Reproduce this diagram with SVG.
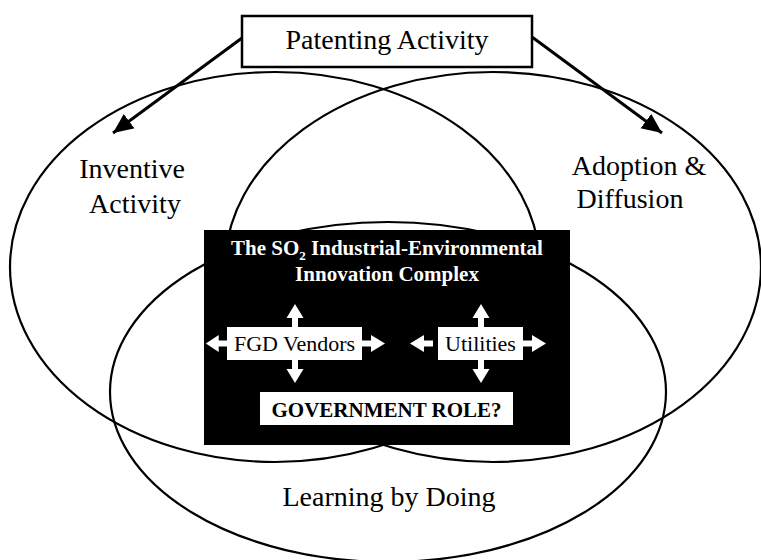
<svg xmlns="http://www.w3.org/2000/svg" xmlns:xlink="http://www.w3.org/1999/xlink" width="761" height="560" viewBox="0 0 761 560">
<style>
.ell{fill:none;stroke:#000;stroke-width:2.2}
.lbl{font-family:'Liberation Serif','Times New Roman',serif;font-size:28px;fill:#000;text-anchor:middle}
.title{font-family:'Liberation Serif','Times New Roman',serif;font-size:21px;font-weight:bold;fill:#fff;text-anchor:middle}
.inner{font-family:'Liberation Serif','Times New Roman',serif;font-size:22px;fill:#000;text-anchor:middle}
.gov{font-family:'Liberation Serif','Times New Roman',serif;font-size:21px;font-weight:bold;fill:#000;text-anchor:middle}
.conn{stroke:#000;stroke-width:3;fill:none}
.wb{fill:#fff}
</style>
<defs>
<marker id="ah" markerUnits="userSpaceOnUse" markerWidth="24" markerHeight="20" refX="20" refY="9" orient="auto">
<path d="M0,0 L20,9 L0,18 Z" fill="#000"/>
</marker>
<path id="ba" d="M0,-3 H9 V-8.5 L23,0 L9,8.5 V3 H0 Z"/>
</defs>
<rect width="761" height="560" fill="#fff"/>
<g id="inventive">
<ellipse class="ell" cx="275" cy="267" rx="265" ry="195"/>
<text class="lbl" x="132" y="178">Inventive</text>
<text class="lbl" x="135" y="213">Activity</text>
</g>
<g id="adoption">
<ellipse class="ell" cx="493" cy="267" rx="268" ry="195"/>
<text class="lbl" x="639" y="175">Adoption &amp;</text>
<text class="lbl" x="630" y="208">Diffusion</text>
</g>
<g id="learning">
<ellipse class="ell" cx="388" cy="392" rx="278" ry="170"/>
<text class="lbl" x="389" y="506">Learning by Doing</text>
</g>
<g id="complex">
<rect x="204" y="230" width="366" height="215" fill="#000"/>
<text class="title" x="387" y="255">The SO<tspan font-size="13" dy="5">2</tspan><tspan dy="-5"> Industrial-Environmental</tspan></text>
<text class="title" x="387" y="281">Innovation Complex</text>
</g>
<g id="fgd">
<rect x="227" y="327" width="135" height="33" fill="#fff"/>
<text class="inner" x="294.5" y="351">FGD Vendors</text>
</g>
<g id="utilities">
<rect x="438" y="327" width="85" height="33" fill="#fff"/>
<text class="inner" x="480.5" y="351">Utilities</text>
</g>
<g id="government">
<rect x="260" y="392" width="253" height="33" fill="#fff"/>
<text class="gov" x="386.5" y="417">GOVERNMENT ROLE?</text>
</g>
<g id="patenting">
<rect x="242" y="16" width="290" height="51" fill="#fff" stroke="#000" stroke-width="2.5"/>
<text class="lbl" x="387" y="49">Patenting Activity</text>
</g>
<g id="connectors">
<line class="conn" x1="242" y1="38" x2="113" y2="133" marker-end="url(#ah)"/>
<line class="conn" x1="532" y1="37" x2="662" y2="133" marker-end="url(#ah)"/>
<g class="wb">
<use xlink:href="#ba" transform="translate(295,327) rotate(-90)"/>
<use xlink:href="#ba" transform="translate(295,360) rotate(90)"/>
<use xlink:href="#ba" transform="translate(227,343.5) rotate(180) scale(0.92,1)"/>
<use xlink:href="#ba" transform="translate(362,343.5)"/>
<use xlink:href="#ba" transform="translate(481,327) rotate(-90)"/>
<use xlink:href="#ba" transform="translate(481,360) rotate(90)"/>
<use xlink:href="#ba" transform="translate(433,343.5) rotate(180)"/>
<use xlink:href="#ba" transform="translate(523,343.5)"/>
</g>
</g>
</svg>
